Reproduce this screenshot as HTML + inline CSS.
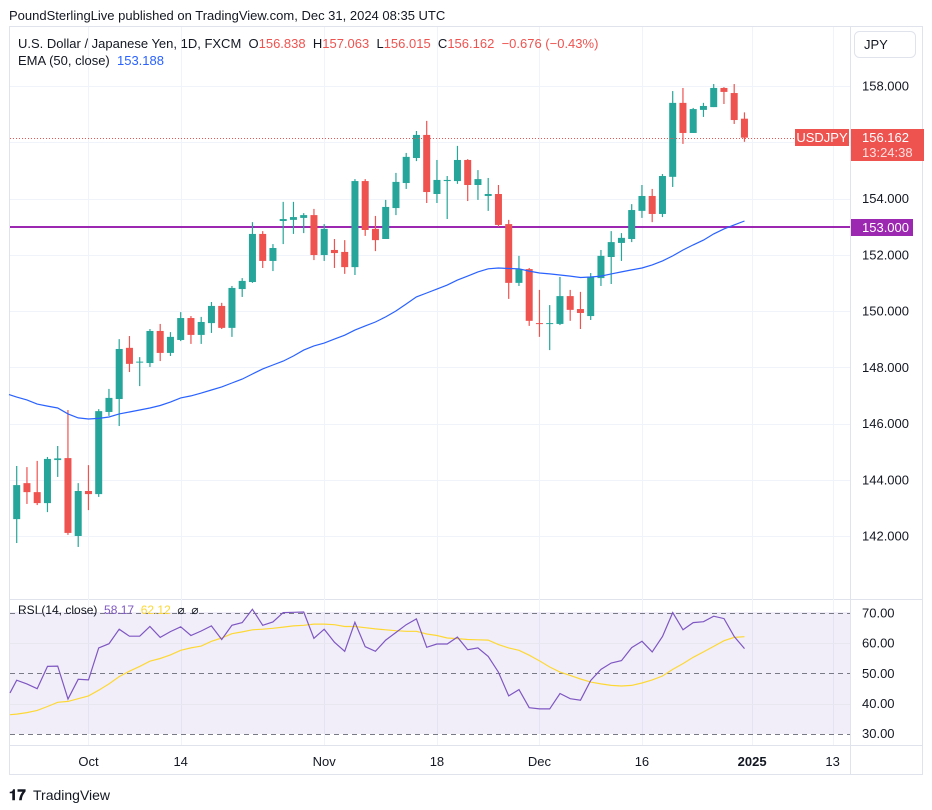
<!DOCTYPE html>
<html><head><meta charset="utf-8">
<style>
body{margin:0;background:#fff;font-family:"Liberation Sans",sans-serif;}
#wrap{position:relative;width:932px;height:810px;overflow:hidden;background:#fff;}
svg text{font-family:"Liberation Sans",sans-serif;}
</style></head>
<body>
<div id="wrap">
<svg id="chart" width="932" height="810" viewBox="0 0 932 810" xmlns="http://www.w3.org/2000/svg">
  <text x="9" y="20" font-size="13" fill="#131722">PoundSterlingLive published on TradingView.com, Dec 31, 2024 08:35 UTC</text>
  <rect x="9.5" y="26.5" width="913" height="748" fill="none" stroke="#e0e3eb"/>
  <line x1="850.5" y1="27" x2="850.5" y2="774" stroke="#e0e3eb"/>
  <line x1="10" y1="599.5" x2="922" y2="599.5" stroke="#e0e3eb"/>
  <line x1="10" y1="745.5" x2="922" y2="745.5" stroke="#e0e3eb"/>
  <g id="grid"></g>
  <rect x="10" y="612" width="840" height="122" fill="rgba(126,87,194,0.1)"/>
  <g id="rsiLines"></g>
  <line x1="10" y1="227" x2="850" y2="227" stroke="#9c27b0" stroke-width="2"/>
  <g id="candles"></g>
  <path id="ema" fill="none" stroke="#2962ff" stroke-width="1.2"/>
  <line id="lastLine" x1="10" x2="850" stroke="#ef5350" stroke-dasharray="1,2"/>
  <path id="rsiMa" fill="none" stroke="#fdd835" stroke-width="1.2"/>
  <path id="rsi" fill="none" stroke="#7e57c2" stroke-width="1.2"/>
  <g id="axes"></g>

  <text x="18" y="48" font-size="13" fill="#131722">U.S. Dollar / Japanese Yen, 1D, FXCM&#160; O<tspan fill="#ef5350">156.838</tspan>&#160; H<tspan fill="#ef5350">157.063</tspan>&#160; L<tspan fill="#ef5350">156.015</tspan>&#160; C<tspan fill="#ef5350">156.162</tspan>&#160; <tspan fill="#ef5350">−0.676 (−0.43%)</tspan></text>
  <text x="18" y="65" font-size="13" fill="#131722">EMA (50, close)&#160; <tspan fill="#2962ff">153.188</tspan></text>
  <text x="18" y="614" font-size="12" fill="#131722">RSI (14, close)&#160; <tspan fill="#7e57c2">58.17</tspan>&#160; <tspan fill="#fdd835">62.12</tspan>&#160; ⌀&#160; ⌀</text>

  <rect x="854.5" y="31.5" width="61" height="26" rx="5" fill="#fff" stroke="#e0e3eb"/>
  <text x="864" y="49" font-size="13" fill="#131722">JPY</text>

  <rect x="795" y="129" width="54" height="17" fill="#ef5350"/>
  <text x="822" y="142" font-size="13" fill="#fff" text-anchor="middle">USDJPY</text>
  <rect x="851" y="129" width="73" height="32" fill="#ef5350"/>
  <text x="862" y="142" font-size="13" fill="#fff">156.162</text>
  <text x="862" y="157" font-size="13" fill="#fde0df">13:24:38</text>
  <rect x="851" y="219" width="62" height="17" fill="#9c27b0"/>
  <text x="862" y="232" font-size="13" fill="#fff">153.000</text>

  <g>
    <text x="9" y="800" font-size="15" font-weight="bold" fill="#131722">𝟏𝟕</text>
    <text x="33" y="800" font-size="14" fill="#131722">TradingView</text>
  </g>
</svg>
</div>
<script>
const opens  = [142.60,143.88,143.56,143.17,144.70,144.77,142.00,143.60,143.49,146.41,146.87,148.69,148.17,148.15,149.29,148.51,148.97,149.75,149.15,149.57,150.18,149.40,150.78,151.03,152.74,151.78,153.20,153.24,153.31,153.41,151.99,152.17,152.10,151.56,154.62,152.92,152.56,153.66,154.55,155.44,156.26,154.16,154.62,154.62,155.37,154.48,154.09,154.16,153.09,151.00,151.49,149.57,149.56,149.54,150.53,150.07,149.82,151.17,151.92,152.42,152.56,153.56,154.09,153.45,154.77,157.40,156.33,157.15,157.25,157.93,157.75,156.838];
const highs  = [144.49,144.45,144.67,144.81,145.20,146.48,143.88,144.52,146.51,147.23,149.00,149.11,148.36,149.36,149.54,149.25,149.96,149.82,149.79,150.32,150.29,150.89,151.17,153.16,152.84,152.38,153.88,153.88,153.48,153.63,153.09,152.56,152.52,154.69,154.69,153.38,153.95,154.91,155.62,156.40,156.76,155.37,154.80,155.87,155.40,155.01,154.73,154.48,153.24,151.96,151.53,150.75,150.21,151.21,150.75,150.68,151.35,152.17,152.84,152.77,153.80,154.48,154.34,154.87,157.82,157.93,157.22,157.40,158.07,157.96,158.07,157.063];
const lows   = [141.75,143.14,143.10,142.85,144.10,142.04,141.61,142.92,143.39,146.27,145.91,147.83,147.33,148.01,148.22,148.40,148.93,148.83,148.83,149.22,149.36,149.08,150.50,151.00,151.53,151.42,152.38,152.74,152.77,151.81,151.78,151.53,151.32,151.28,152.67,152.13,152.56,153.41,154.34,155.33,153.84,153.84,153.27,154.52,153.91,153.95,153.56,152.99,150.43,150.89,149.47,149.08,148.61,149.50,149.65,149.36,149.68,150.89,150.96,151.78,152.45,153.31,153.16,153.34,154.41,155.94,156.33,156.90,157.25,157.36,156.65,156.015];
const closes = [143.81,143.56,143.17,144.74,144.76,142.11,143.60,143.49,146.44,146.91,148.65,148.12,148.20,149.29,148.51,149.08,149.75,149.15,149.61,150.18,149.40,150.82,151.07,152.74,151.78,152.24,153.27,153.34,153.41,151.99,152.92,152.06,151.56,154.62,152.88,152.52,153.70,154.59,155.48,156.26,154.23,154.66,154.66,155.37,154.48,154.69,154.16,153.06,151.00,151.49,149.65,149.56,149.57,150.53,150.04,149.93,151.21,151.96,152.45,152.60,153.59,154.09,153.45,154.80,157.40,156.33,157.18,157.29,157.93,157.79,156.79,156.162];
const ema50  = [146.94,146.84,146.69,146.62,146.55,146.34,146.20,146.16,146.18,146.23,146.34,146.41,146.48,146.55,146.64,146.76,146.91,146.98,147.08,147.19,147.30,147.44,147.58,147.76,147.94,148.08,148.22,148.40,148.61,148.76,148.86,149.00,149.14,149.32,149.47,149.61,149.79,150.00,150.25,150.50,150.64,150.78,150.92,151.10,151.24,151.39,151.50,151.53,151.51,151.50,151.42,151.35,151.32,151.28,151.24,151.19,151.21,151.24,151.32,151.39,151.46,151.53,151.64,151.78,151.96,152.17,152.35,152.52,152.74,152.92,153.06,153.20];
const rsiVals = [47.7,46.5,44.9,52.3,52.4,41.5,48.0,47.8,58.4,59.8,64.6,62.3,62.3,65.5,61.9,63.8,65.4,62.5,64.0,65.7,61.2,65.9,66.8,71.2,65.9,67.0,70.1,70.2,70.3,61.6,64.6,60.3,57.3,66.9,58.8,57.3,61.0,63.5,66.1,68.0,58.6,59.7,59.7,62.0,57.8,58.4,55.6,50.4,42.5,44.6,38.6,38.2,38.2,43.3,41.6,41.1,47.6,51.3,53.4,54.2,58.5,60.6,57.1,62.2,70.1,64.4,66.8,67.1,68.9,68.1,62.2,58.17];
const rsiMaVals = [36.5,37.0,37.7,39.0,40.4,40.7,41.6,42.5,44.4,46.5,48.9,50.7,52.3,54.0,54.9,56.1,57.6,58.4,59.0,60.6,61.7,63.1,63.7,64.4,64.6,64.9,65.3,65.7,65.9,66.3,66.3,66.1,65.5,65.5,65.1,64.7,64.4,64.1,63.9,63.9,63.0,62.5,61.7,61.5,61.2,61.1,61.0,59.5,58.4,57.6,56.0,54.1,52.1,50.4,49.3,48.1,47.1,46.5,46.0,45.8,46.0,46.8,47.8,49.1,51.3,53.2,55.3,57.1,58.9,60.8,61.9,62.12];
const priceTicks = [158,156,154,152,150,148,146,144,142];
const rsiTicks = [70,60,50,40,30];
const timeLabels = ["Oct","14","Nov","18","Dec","16","2025","13"];
const timeIdx = [7,16,30,41,51,61,71.75,79.6];

const NS = "http://www.w3.org/2000/svg";
function X(i){ return 16.7 + 10.25*i; }
function Y(p){ return 86 + (158-p)*28.125; }
function YR(r){ return 673.3 - (r-50)*3.02; }
function mk(tag, attrs, parent){ const e=document.createElementNS(NS,tag); for(const k in attrs) e.setAttribute(k,attrs[k]); parent.appendChild(e); return e; }

const grid=document.getElementById('grid'), axes=document.getElementById('axes');
priceTicks.forEach((p)=>{
  const y=Math.round(Y(p))+0.5;
  const g=mk('line',{x1:10,x2:850,y1:y,y2:y,stroke:'#f0f3fa'},grid);
  
  
  if(Math.abs(p-156)>0.01){
    const t=mk('text',{x:862,y:Y(p)+4.5,'font-size':13,fill:'#131722'},axes);
    t.textContent=p.toFixed(3);
    
    
  }
});
rsiTicks.forEach((r)=>{
  const y=Math.round(YR(r))+0.5;
  const g=mk('line',{x1:10,x2:850,y1:y,y2:y,stroke:(r%20===10?'#787b86':'#e8e6ef'),'stroke-dasharray':(r%20===10?'5,4':'')},document.getElementById('rsiLines'));
  
  
  const t=mk('text',{x:862,y:YR(r)+4.5,'font-size':13,fill:'#131722'},axes);
  t.textContent=r.toFixed(2);
  
  
});
timeLabels.forEach((lab,k)=>{
  const x=Math.round(X(timeIdx[k]))+0.5;
  const g=mk('line',{x1:x,x2:x,y1:27,y2:745,stroke:'#f0f3fa'},grid);
  
  
  const t=mk('text',{x:X(timeIdx[k]),y:766,'font-size':13,fill:'#131722','text-anchor':'middle','font-weight':(lab==='2025'?'bold':'normal')},axes);
  t.textContent=lab;
  
  
});

const cg=document.getElementById('candles');
for(let i=0;i<opens.length;i++){
  const up=closes[i]>=opens[i];
  const col=up?'#26a69a':'#ef5350';
  const x=X(i);
  const w=mk('line',{x1:x,x2:x,y1:Y(highs[i]),y2:Y(lows[i]),stroke:col,'stroke-width':1.2},cg);
  
  
  const top=Y(Math.max(opens[i],closes[i])), bot=Y(Math.min(opens[i],closes[i]));
  const b=mk('rect',{x:x-3.5,y:top,width:7,height:Math.max(1,bot-top),fill:col},cg);
  
  
}
document.getElementById('ema').setAttribute('d', 'M9,'+(Y(ema50[0])-2.5)+' '+ema50.map((v,i)=>'L'+X(i).toFixed(1)+','+Y(v).toFixed(1)).join(' '));
document.getElementById('rsi').setAttribute('d', 'M10,'+YR(43.5)+' '+rsiVals.map((v,i)=>'L'+X(i).toFixed(1)+','+YR(v).toFixed(1)).join(' '));
document.getElementById('rsiMa').setAttribute('d', 'M10,'+YR(36.3)+' '+rsiMaVals.map((v,i)=>'L'+X(i).toFixed(1)+','+YR(v).toFixed(1)).join(' '));
const ll=document.getElementById('lastLine');
const ly=Math.round(Y(closes[closes.length-1]))+0.5;
ll.setAttribute('y1',ly); ll.setAttribute('y2',ly);
</script>
</body></html>
